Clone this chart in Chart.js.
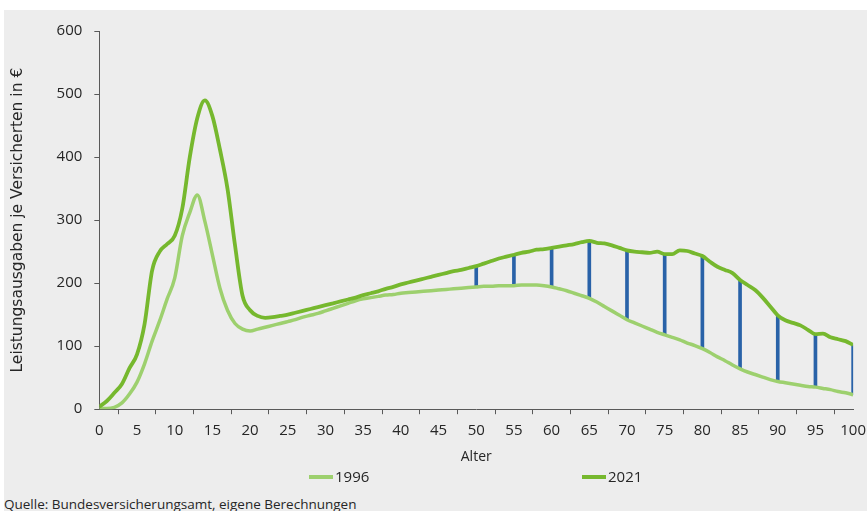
<!DOCTYPE html>
<html>
<head>
<meta charset="utf-8">
<script src="https://cdn.jsdelivr.net/npm/chart.js@4/dist/chart.umd.min.js"></script>
<style>
  html, body { margin: 0; padding: 0; background: #ffffff; }
  #wrap { position: absolute; left: 4px; top: 10px; width: 863px; height: 501px; background: #EDEDED; overflow: hidden; }
  #c { position: absolute; left: 0; top: 0; }
  .leg { position: absolute; top: 457px; height: 18px; font-family: "Liberation Sans Narrow", "Open Sans", sans-serif; font-size: 15px; color: #262626; line-height: 18px; white-space: nowrap; }
  .leg .sw { display: inline-block; width: 24px; height: 4px; vertical-align: middle; margin-right: 2px; position: relative; top: -1px; }
  #foot { position: absolute; left: 0; top: 485px; font-family: "Liberation Sans Narrow", "Open Sans", sans-serif; font-size: 13.5px; color: #262626; white-space: nowrap; }
</style>
</head>
<body>
<div id="wrap">
  <canvas id="c" width="870" height="460"></canvas>
  <div class="leg" id="leg1" style="left:305px;"><span class="sw" style="background:#9DD06E"></span>1996</div>
  <div class="leg" id="leg2" style="left:578px;"><span class="sw" style="background:#76B82E"></span>2021</div>
  <div id="foot">Quelle: Bundesversicherungsamt, eigene Berechnungen</div>
</div>
<script>
const ages = [0,1,2,3,4,5,6,7,8,9,10,11,12,13,14,15,16,17,18,19,20,21,22,23,24,25,26,27,28,29,30,31,32,33,34,35,36,37,38,39,40,41,42,43,44,45,46,47,48,49,50,51,52,53,54,55,56,57,58,59,60,61,62,63,64,65,66,67,68,69,70,71,72,73,74,75,76,77,78,79,80,81,82,83,84,85,86,87,88,89,90,91,92,93,94,95,96,97,98,99,100];

const values1996 = [1,1,3,10,24,43,72,108,140,175,208,275,312,340,298,245,192,157,136,127,124,127,130,133,136,139,142,146,149,152,156,160,164,168,172,175,177,179,181,182,184,185,186,187,188,189,190,191,192,193,194,195,195,196,196,196,197,197,197,196,194,191,188,184,180,176,170,163,156,149,142,137,132,127,122,118,114,110,105,101,96,90,83,77,70,64,59,55,51,47,44,42,40,38,36,35,33,31,28,26,23];

const values2021 = [4,13,26,40,65,87,135,220,250,262,275,318,400,462,490,465,412,350,260,180,157,148,145,146,148,150,153,156,159,162,165,168,171,174,177,181,184,187,191,194,198,201,204,207,210,213,216,219,221,224,227,231,235,239,242,245,248,250,253,254,256,258,260,262,265,267,264,263,260,256,252,250,249,248,250,246,246,252,251,247,243,234,226,221,216,205,197,189,177,163,149,141,137,133,126,119,120,114,111,108,102];

const gapAges = [50,55,60,65,70,75,80,85,90,95,100];

const xTicks = [0,5,10,15,20,25,30,35,40,45,50,55,60,65,70,75,80,85,90,95,100];
const yTicks = [0,100,200,300,400,500,600];

const seriesNames = ['1996', '2021'];
const yTitle = 'Leistungsausgaben je Versicherten in €';
const xTitle = 'Alter';

const toPoints = (vals) => ages.map((a, i) => ({x: a, y: vals[i]}));
const gapBars = gapAges.map(a => {
  const i = ages.indexOf(a);
  return {x: a, y: [values1996[i], values2021[i]]};
});

const tickFont = {family: '"Open Sans", sans-serif', size: 15};
const axisColor = '#595959';

new Chart(document.getElementById('c'), {
  type: 'line',
  data: {
    datasets: [
      {label: seriesNames[0], data: toPoints(values1996), borderColor: '#9DD06E', borderWidth: 3.5, pointRadius: 0, cubicInterpolationMode: 'monotone', fill: false, order: 1},
      {label: seriesNames[1], data: toPoints(values2021), borderColor: '#76B82E', borderWidth: 3.8, pointRadius: 0, cubicInterpolationMode: 'monotone', fill: false, order: 0},
      {type: 'bar', label: 'Differenz', data: gapBars, backgroundColor: '#2962A8', borderWidth: 0, barThickness: 3, grouped: false, order: 3}
    ]
  },
  options: {
    responsive: false,
    animation: false,
    devicePixelRatio: 1,
    layout: {padding: {left: 1, right: 0, top: 6, bottom: 5}},
    plugins: {legend: {display: false}, tooltip: {enabled: false}},
    scales: {
      x: {
        type: 'linear', min: 0, max: 100, offset: false,
        afterBuildTicks: (s) => { s.ticks = xTicks.map(v => ({value: v})); },
        grid: {display: true, drawOnChartArea: false, drawTicks: true, tickLength: 5, tickColor: axisColor, lineWidth: 1},
        border: {display: true, color: axisColor, width: 1},
        ticks: {font: tickFont, color: '#262626', padding: 8, maxRotation: 0, autoSkip: false},
        title: {display: true, text: xTitle, font: {family: '"Open Sans", sans-serif', size: 14}, color: '#262626', padding: {top: 0, bottom: 0}}
      },
      y: {
        min: 0, max: 600,
        afterBuildTicks: (s) => { s.ticks = yTicks.map(v => ({value: v})); },
        grid: {display: true, drawOnChartArea: false, drawTicks: true, tickLength: 5, tickColor: axisColor, lineWidth: 1},
        border: {display: true, color: axisColor, width: 1},
        ticks: {font: tickFont, color: '#262626', padding: 12},
        title: {display: true, text: yTitle, font: {family: '"DejaVu Sans", sans-serif', size: 15.5}, color: '#262626', padding: {top: 4, bottom: 17}}
      }
    }
  }
});
</script>
</body>
</html>
